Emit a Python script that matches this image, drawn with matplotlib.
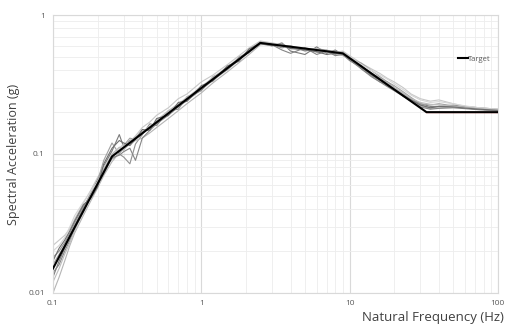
import matplotlib
matplotlib.use("Agg")
import matplotlib.pyplot as plt
from matplotlib.ticker import LogLocator, NullFormatter, FixedLocator, FixedFormatter

plt.rcParams['font.family'] = ['Open Sans', 'DejaVu Sans']

# ── Data ────────────────────────────────────────────────────────────────────
target_freq = [0.1, 0.25, 2.5, 9.0, 33.0, 100.0]
target_sa   = [0.015, 0.096, 0.63, 0.53, 0.2, 0.2]

freq = [0.1, 0.11, 0.12, 0.13, 0.14, 0.16, 0.18, 0.2, 0.22, 0.25,
        0.28, 0.3, 0.33, 0.36, 0.4, 0.45, 0.5, 0.6, 0.7, 0.8,
        1.0, 1.2, 1.5, 1.8, 2.1, 2.5, 3.0, 3.5, 4.0, 5.0,
        6.0, 7.0, 8.0, 9.0, 10.0, 12.0, 14.0, 16.0, 18.0, 20.0,
        23.0, 26.0, 30.0, 35.0, 40.0, 50.0, 60.0, 75.0, 100.0]

sim1 = [0.013, 0.017, 0.021, 0.025, 0.030, 0.041, 0.052, 0.066, 0.082, 0.105,
        0.138, 0.112, 0.125, 0.13, 0.145, 0.152, 0.172, 0.19, 0.228, 0.24,
        0.30, 0.35, 0.41, 0.49, 0.55, 0.62, 0.60, 0.63, 0.55, 0.52,
        0.59, 0.53, 0.56, 0.52, 0.47, 0.42, 0.37, 0.34, 0.33, 0.30,
        0.27, 0.25, 0.23, 0.22, 0.22, 0.22, 0.215, 0.21, 0.205]
sim2 = [0.018, 0.020, 0.023, 0.027, 0.032, 0.042, 0.050, 0.060, 0.078, 0.092,
        0.10, 0.095, 0.085, 0.118, 0.138, 0.165, 0.16, 0.205, 0.21, 0.258,
        0.285, 0.36, 0.405, 0.50, 0.535, 0.64, 0.61, 0.58, 0.60, 0.55,
        0.57, 0.56, 0.52, 0.54, 0.50, 0.41, 0.36, 0.33, 0.32, 0.30,
        0.26, 0.245, 0.225, 0.215, 0.22, 0.225, 0.22, 0.215, 0.21]
sim3 = [0.022, 0.024, 0.026, 0.029, 0.034, 0.044, 0.055, 0.068, 0.08, 0.098,
        0.11, 0.118, 0.122, 0.135, 0.155, 0.17, 0.19, 0.215, 0.25, 0.27,
        0.33, 0.37, 0.44, 0.51, 0.58, 0.65, 0.63, 0.61, 0.59, 0.58,
        0.55, 0.56, 0.54, 0.55, 0.51, 0.45, 0.41, 0.38, 0.35, 0.33,
        0.30, 0.27, 0.25, 0.24, 0.245, 0.23, 0.22, 0.215, 0.21]
sim4 = [0.010, 0.013, 0.017, 0.022, 0.027, 0.036, 0.046, 0.057, 0.07, 0.088,
        0.102, 0.108, 0.118, 0.125, 0.13, 0.142, 0.155, 0.18, 0.205, 0.23,
        0.275, 0.325, 0.39, 0.455, 0.52, 0.61, 0.62, 0.60, 0.57, 0.58,
        0.56, 0.54, 0.53, 0.51, 0.48, 0.43, 0.38, 0.355, 0.32, 0.295,
        0.27, 0.245, 0.222, 0.212, 0.215, 0.218, 0.214, 0.21, 0.206]
sim5 = [0.016, 0.019, 0.022, 0.026, 0.031, 0.040, 0.052, 0.064, 0.09, 0.12,
        0.10, 0.115, 0.13, 0.127, 0.14, 0.157, 0.17, 0.198, 0.22, 0.25,
        0.30, 0.345, 0.415, 0.48, 0.545, 0.63, 0.60, 0.62, 0.58, 0.57,
        0.54, 0.55, 0.55, 0.53, 0.49, 0.45, 0.40, 0.36, 0.33, 0.31,
        0.28, 0.255, 0.23, 0.225, 0.23, 0.222, 0.218, 0.212, 0.208]
sim6 = [0.02, 0.022, 0.025, 0.03, 0.036, 0.045, 0.054, 0.063, 0.076, 0.094,
        0.108, 0.114, 0.122, 0.131, 0.143, 0.158, 0.171, 0.2, 0.226, 0.252,
        0.302, 0.35, 0.42, 0.485, 0.55, 0.635, 0.625, 0.6, 0.595, 0.575,
        0.565, 0.545, 0.54, 0.535, 0.5, 0.44, 0.4, 0.37, 0.345, 0.32,
        0.29, 0.265, 0.245, 0.235, 0.238, 0.23, 0.222, 0.215, 0.21]
sim7 = [0.014, 0.016, 0.02, 0.024, 0.029, 0.038, 0.049, 0.06, 0.072, 0.094,
        0.098, 0.104, 0.11, 0.09, 0.13, 0.148, 0.165, 0.19, 0.218, 0.243,
        0.29, 0.34, 0.405, 0.475, 0.54, 0.62, 0.61, 0.56, 0.53, 0.58,
        0.52, 0.55, 0.51, 0.52, 0.475, 0.41, 0.365, 0.33, 0.305, 0.285,
        0.26, 0.24, 0.218, 0.21, 0.213, 0.215, 0.212, 0.208, 0.205]
sim8 = [0.012, 0.015, 0.019, 0.023, 0.028, 0.039, 0.051, 0.062, 0.077, 0.1,
        0.112, 0.106, 0.124, 0.133, 0.144, 0.153, 0.175, 0.205, 0.23, 0.255,
        0.305, 0.355, 0.425, 0.49, 0.56, 0.645, 0.615, 0.605, 0.6, 0.565,
        0.575, 0.55, 0.545, 0.545, 0.495, 0.425, 0.385, 0.345, 0.325, 0.3,
        0.275, 0.25, 0.235, 0.228, 0.226, 0.22, 0.216, 0.212, 0.208]
sim9 = [0.017, 0.021, 0.024, 0.028, 0.033, 0.043, 0.048, 0.058, 0.085, 0.11,
        0.125, 0.12, 0.115, 0.128, 0.15, 0.148, 0.18, 0.19, 0.235, 0.24,
        0.31, 0.335, 0.43, 0.465, 0.57, 0.625, 0.605, 0.6, 0.575, 0.56,
        0.545, 0.52, 0.53, 0.525, 0.485, 0.43, 0.375, 0.34, 0.31, 0.29,
        0.265, 0.245, 0.225, 0.215, 0.22, 0.218, 0.214, 0.21, 0.206]

sims = [sim1, sim2, sim3, sim4, sim5, sim6, sim7, sim8, sim9]
sim_colors = ['#7a7a7a', '#909090', '#c8c8c8', '#b5b5b5', '#a0a0a0',
              '#d5d5d5', '#858585', '#bdbdbd', '#6e6e6e']

# ── Plot ────────────────────────────────────────────────────────────────────
fig = plt.figure(figsize=(5.06, 3.24), dpi=100)
ax = fig.add_axes([0.1047, 0.0957, 0.8793, 0.858])

ax.set_xscale('log')
ax.set_yscale('log')
ax.set_xlim(0.1, 100)
ax.set_ylim(0.01, 1)

for s, c in zip(sims, sim_colors):
    ax.plot(freq, s, color=c, linewidth=0.8, zorder=2)

ax.plot(target_freq[-2:], [v * 0.995 for v in target_sa[-2:]],
        color='#d00000', linewidth=0.9, zorder=3)
ax.plot(target_freq, target_sa, color='black', linewidth=1.5,
        zorder=4, label='Target')

# grid
ax.grid(True, which='major', color='#d9d9d9', linewidth=0.8, zorder=0)
ax.grid(True, which='minor', color='#ededed', linewidth=0.6, zorder=0)
ax.xaxis.set_minor_locator(LogLocator(base=10, subs=range(2, 10)))
ax.yaxis.set_minor_locator(LogLocator(base=10, subs=range(2, 10)))
ax.xaxis.set_minor_formatter(NullFormatter())
ax.yaxis.set_minor_formatter(NullFormatter())

ax.xaxis.set_major_locator(FixedLocator([0.1, 1, 10, 100]))
ax.xaxis.set_major_formatter(FixedFormatter(['0.1', '1', '10', '100']))
ax.yaxis.set_major_locator(FixedLocator([0.01, 0.1, 1]))
ax.yaxis.set_major_formatter(FixedFormatter(['0.01', '0.1', '1']))

ax.tick_params(which='both', length=0)
ax.tick_params(axis='x', labelsize=6, labelcolor='#595959', pad=5)
ax.tick_params(axis='y', labelsize=6, labelcolor='#595959', pad=6)

for sp in ax.spines.values():
    sp.set_color('#d9d9d9')
    sp.set_linewidth(0.8)

ax.set_ylabel('Spectral Acceleration (g)', fontsize=9, color='#404040', labelpad=6)
fig.text(0.996, 0.0, 'Natural Frequency (Hz)', fontsize=9.5, color='#404040',
         ha='right', va='bottom')

leg = ax.legend(loc='upper right', bbox_to_anchor=(1.0, 0.88), frameon=False,
                fontsize=5.5, handlelength=1.2, handletextpad=0.1,
                labelcolor='#595959')

fig.savefig('out.png', dpi=100)
